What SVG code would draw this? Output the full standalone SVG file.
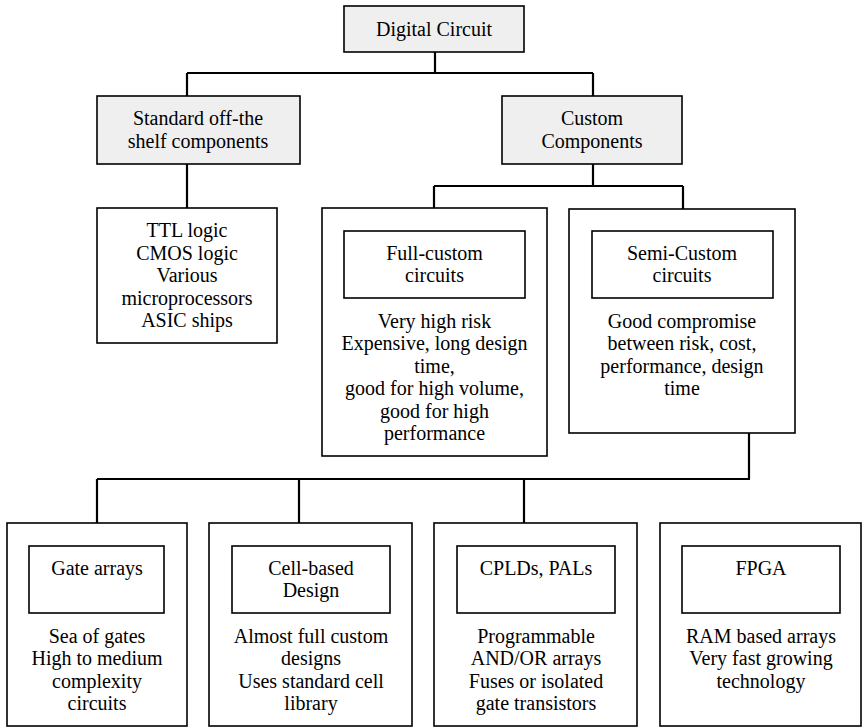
<svg xmlns="http://www.w3.org/2000/svg" width="862" height="727" viewBox="0 0 862 727">
<style>
.box{fill:#ffffff;stroke:#000;stroke-width:1.6}
.gbox{fill:#efefef;stroke:#000;stroke-width:1.6}
.t{font-family:'Liberation Serif','DejaVu Serif','Noto Serif',Times,serif;font-size:20px;fill:#000;text-anchor:middle}
.c{fill:none;stroke:#000;stroke-width:2.2}
</style>
<rect width="862" height="727" fill="#fff"/>
<g id="connectors">
<path class="c" d="M435,52 V73 M187,73 H593 M187,73 V96 M593,73 V96"/>
<path class="c" d="M187,164 V208"/>
<path class="c" d="M593,164 V186 M434,186 H683 M434,186 V208 M683,186 V209"/>
<path class="c" d="M749,433 V479 M97,479 H750 M97,479 V523 M299,479 V523 M524,479 V523"/>
</g>
<g id="digital-circuit">
<rect class="gbox" x="344" y="6" width="180" height="46"/>
<text class="t" x="434" y="36">Digital Circuit</text>
</g>
<g id="standard">
<rect class="gbox" x="97" y="96" width="203" height="68"/>
<text class="t" x="198" y="125">Standard off-the</text>
<text class="t" x="198" y="148">shelf components</text>
</g>
<g id="custom">
<rect class="gbox" x="502" y="96" width="180" height="68"/>
<text class="t" x="592" y="125">Custom</text>
<text class="t" x="592" y="148">Components</text>
</g>
<g id="ttl">
<rect class="box" x="97" y="208" width="180" height="135"/>
<text class="t" x="187" y="237">TTL logic</text>
<text class="t" x="187" y="260">CMOS logic</text>
<text class="t" x="187" y="282">Various</text>
<text class="t" x="187" y="305">microprocessors</text>
<text class="t" x="187" y="327">ASIC ships</text>
</g>
<g id="full-custom">
<rect class="box" x="322" y="208" width="225" height="248"/>
<rect class="box" x="344" y="231" width="181" height="67"/>
<text class="t" x="434.5" y="260">Full-custom</text>
<text class="t" x="434.5" y="282">circuits</text>
<text class="t" x="434.5" y="328">Very high risk</text>
<text class="t" x="434.5" y="350">Expensive, long design</text>
<text class="t" x="434.5" y="373">time,</text>
<text class="t" x="434.5" y="395">good for high volume,</text>
<text class="t" x="434.5" y="418">good for high</text>
<text class="t" x="434.5" y="440">performance</text>
</g>
<g id="semi-custom">
<rect class="box" x="569" y="209" width="226" height="224"/>
<rect class="box" x="592" y="231" width="181" height="67"/>
<text class="t" x="682" y="260">Semi-Custom</text>
<text class="t" x="682" y="282">circuits</text>
<text class="t" x="682" y="328">Good compromise</text>
<text class="t" x="682" y="350">between risk, cost,</text>
<text class="t" x="682" y="373">performance, design</text>
<text class="t" x="682" y="395">time</text>
</g>
<g id="gate-arrays">
<rect class="box" x="7" y="523" width="180" height="203"/>
<rect class="box" x="29" y="546" width="135" height="67"/>
<text class="t" x="97" y="575">Gate arrays</text>
<text class="t" x="97" y="643">Sea of gates</text>
<text class="t" x="97" y="665">High to medium</text>
<text class="t" x="97" y="688">complexity</text>
<text class="t" x="97" y="710">circuits</text>
</g>
<g id="cell-based">
<rect class="box" x="209" y="523" width="203" height="203"/>
<rect class="box" x="232" y="546" width="158" height="67"/>
<text class="t" x="311" y="575">Cell-based</text>
<text class="t" x="311" y="597">Design</text>
<text class="t" x="311" y="643">Almost full custom</text>
<text class="t" x="311" y="665">designs</text>
<text class="t" x="311" y="688">Uses standard cell</text>
<text class="t" x="311" y="710">library</text>
</g>
<g id="cplds">
<rect class="box" x="434" y="523" width="203" height="203"/>
<rect class="box" x="457" y="546" width="158" height="67"/>
<text class="t" x="536" y="575">CPLDs, PALs</text>
<text class="t" x="536" y="643">Programmable</text>
<text class="t" x="536" y="665">AND/OR arrays</text>
<text class="t" x="536" y="688">Fuses or isolated</text>
<text class="t" x="536" y="710">gate transistors</text>
</g>
<g id="fpga">
<rect class="box" x="660" y="523" width="201" height="203"/>
<rect class="box" x="682" y="546" width="158" height="67"/>
<text class="t" x="761" y="575">FPGA</text>
<text class="t" x="761" y="643">RAM based arrays</text>
<text class="t" x="761" y="665">Very fast growing</text>
<text class="t" x="761" y="688">technology</text>
</g>
</svg>
